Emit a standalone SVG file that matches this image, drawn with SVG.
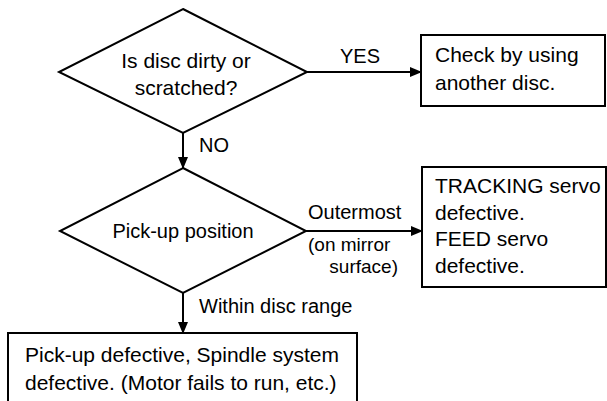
<svg xmlns="http://www.w3.org/2000/svg" width="607" height="401" viewBox="0 0 607 401">
<defs>
<marker id="ah" markerWidth="12" markerHeight="10" refX="11" refY="5" orient="auto" markerUnits="userSpaceOnUse">
<path d="M0,0 L12,5 L0,10 Z" fill="#000"/>
</marker>
<style>
.shape{fill:#fff;stroke:#000;stroke-width:2}
.edge{fill:none;stroke:#000;stroke-width:2;marker-end:url(#ah)}
text{font-family:"Liberation Sans",Arial,sans-serif;fill:#000}
.t{font-size:21px}
.l{font-size:20px}
.s{font-size:19px}
</style>
</defs>
<rect width="607" height="401" fill="#fff"/>
<g id="edges">
<path class="edge" d="M307,72 L421,72"/>
<path class="edge" d="M183,133 L183,168"/>
<path class="edge" d="M306,231 L422,231"/>
<path class="edge" d="M183,293 L183,333"/>
<text class="l" x="360" y="63" text-anchor="middle">YES</text>
<text class="l" x="199" y="152">NO</text>
<text class="l" x="308" y="219">Outermost</text>
<text class="s" x="308" y="251">(on mirror</text>
<text class="s" x="398" y="273" text-anchor="end">surface)</text>
<text class="l" x="199" y="313">Within disc range</text>
</g>
<g id="q1">
<polygon class="shape" points="183,9 307,72 183,133 59,72"/>
<text class="t" x="186" y="68" text-anchor="middle">Is disc dirty or</text>
<text class="t" x="186" y="95" text-anchor="middle">scratched?</text>
</g>
<g id="r1">
<rect class="shape" x="421" y="35" width="184" height="71"/>
<text class="t" x="435" y="62">Check by using</text>
<text class="t" x="435" y="90">another disc.</text>
</g>
<g id="q2">
<polygon class="shape" points="183,168 306,231 183,293 60,231"/>
<text class="l" x="183" y="238" text-anchor="middle">Pick-up position</text>
</g>
<g id="r2">
<rect class="shape" x="422" y="167" width="184" height="120"/>
<text class="t" x="435" y="193">TRACKING servo</text>
<text class="t" x="435" y="220">defective.</text>
<text class="t" x="435" y="246">FEED servo</text>
<text class="t" x="435" y="273">defective.</text>
</g>
<g id="r3">
<rect class="shape" x="8" y="333" width="349" height="75"/>
<text class="t" x="25" y="362">Pick-up defective, Spindle system</text>
<text class="t" x="25" y="390">defective. (Motor fails to run, etc.)</text>
</g>
</svg>
